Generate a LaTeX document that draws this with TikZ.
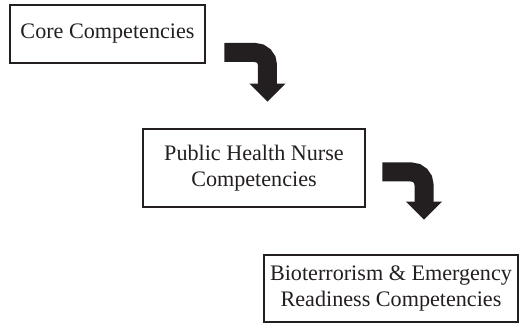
\documentclass[tikz,border=0pt]{standalone}
\usepackage{fontspec}
\setmainfont{Liberation Serif}
\usepackage{tikz}
\usepackage{xcolor}
\usetikzlibrary{arrows.meta,positioning}
\definecolor{ink}{HTML}{231F20}
\tikzset{
  compbox/.style={draw=ink,fill=white,line width=1.5pt,align=center,
                  inner sep=2pt,text=ink,font=\fontsize{12.6}{14.8}\selectfont},
  bendarr/.style={-{Triangle[length=3.6mm,width=7mm]},line width=3.8mm,
                  draw=ink,rounded corners=2.5mm}
}

\begin{document}
\begin{tikzpicture}[x=1cm,y=1cm]
    \path[use as bounding box] (0,0) rectangle (10.38,-6.48);

    \node[compbox,minimum width=3.9cm,minimum height=1.16cm] (core) at (2.15,-0.68)
      {Core Competencies};
    \node[compbox,minimum width=4.44cm,minimum height=1.56cm] (phn) at (5.08,-3.36)
      {Public Health Nurse\\Competencies};
    \node[compbox,minimum width=5.08cm,minimum height=1.34cm] (bio) at (7.82,-5.77)
      {Bioterrorism \& Emergency\\Readiness Competencies};

    \draw[bendarr] ([xshift=3.6mm,yshift=-3.7mm]core.east)
      -| ([xshift=2.7mm,yshift=5.2mm]phn.north);
    \draw[bendarr] ([xshift=3.2mm,yshift=-0.8mm]phn.east)
      -| ([xshift=6.6mm,yshift=6.8mm]bio.north);
  \end{tikzpicture}
\end{document}
